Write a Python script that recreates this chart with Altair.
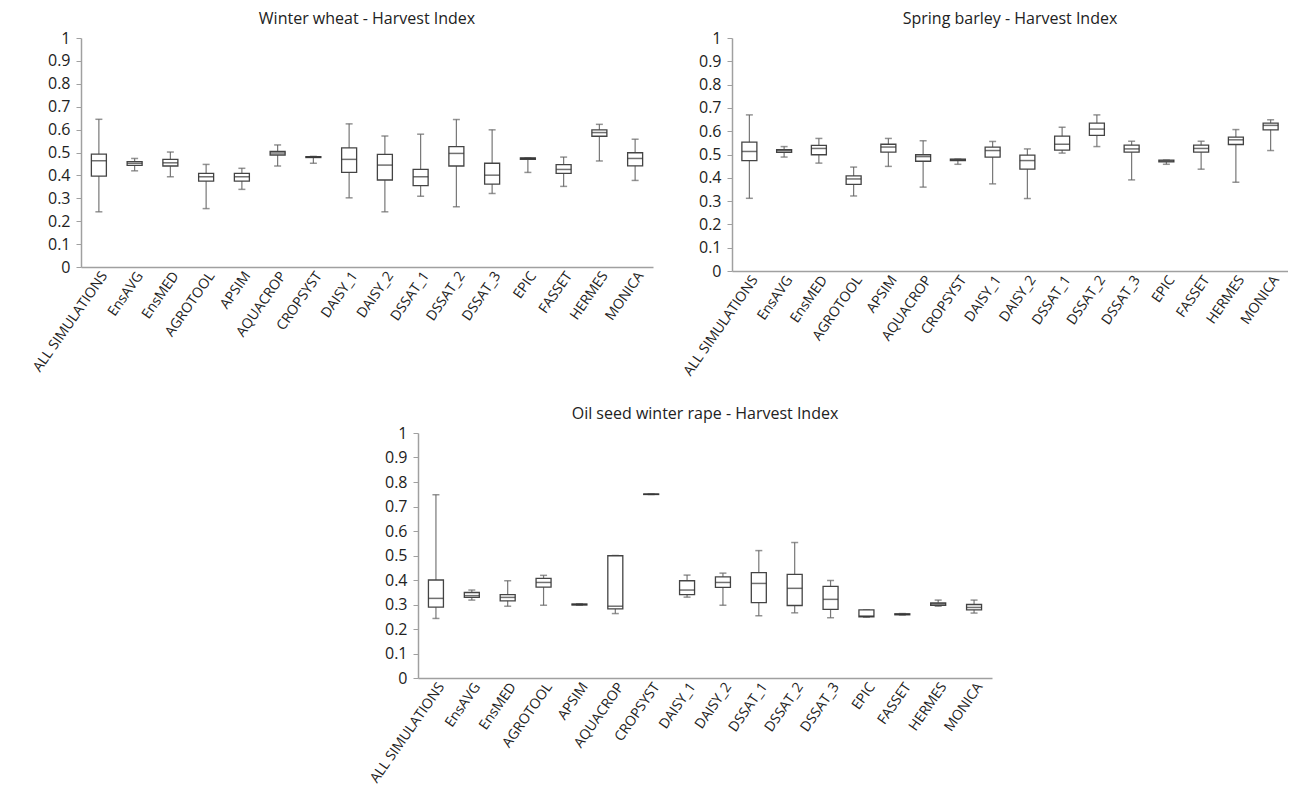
import altair as alt
import pandas as pd

categories = ["ALL SIMULATIONS", "EnsAVG", "EnsMED", "AGROTOOL", "APSIM", "AQUACROP",
              "CROPSYST", "DAISY_1", "DAISY_2", "DSSAT_1", "DSSAT_2", "DSSAT_3",
              "EPIC", "FASSET", "HERMES", "MONICA"]

y_ticks = [0, 0.1, 0.2, 0.3, 0.4, 0.5, 0.6, 0.7, 0.8, 0.9, 1.0]

# Winter wheat
ww_min = [0.241, 0.420, 0.394, 0.255, 0.339, 0.441, 0.453, 0.302, 0.241, 0.309, 0.263, 0.321, 0.413, 0.352, 0.463, 0.378]
ww_q1 = [0.397, 0.444, 0.441, 0.375, 0.375, 0.489, 0.478, 0.413, 0.380, 0.355, 0.441, 0.362, 0.470, 0.409, 0.571, 0.442]
ww_med = [0.464, 0.453, 0.455, 0.394, 0.394, 0.498, 0.480, 0.470, 0.445, 0.394, 0.496, 0.401, 0.474, 0.426, 0.587, 0.474]
ww_q3 = [0.493, 0.460, 0.470, 0.409, 0.409, 0.505, 0.482, 0.520, 0.492, 0.426, 0.526, 0.453, 0.476, 0.447, 0.599, 0.499]
ww_max = [0.645, 0.474, 0.502, 0.448, 0.431, 0.533, 0.483, 0.625, 0.572, 0.580, 0.644, 0.599, 0.476, 0.480, 0.623, 0.558]

# Spring barley
sb_min = [0.312, 0.489, 0.463, 0.322, 0.449, 0.360, 0.458, 0.374, 0.311, 0.506, 0.534, 0.391, 0.458, 0.437, 0.381, 0.517]
sb_q1 = [0.474, 0.509, 0.499, 0.372, 0.510, 0.471, 0.474, 0.489, 0.437, 0.519, 0.582, 0.510, 0.468, 0.510, 0.543, 0.606]
sb_med = [0.513, 0.516, 0.526, 0.395, 0.532, 0.491, 0.478, 0.517, 0.474, 0.544, 0.609, 0.524, 0.472, 0.526, 0.563, 0.625]
sb_q3 = [0.553, 0.521, 0.539, 0.408, 0.544, 0.499, 0.480, 0.532, 0.497, 0.579, 0.635, 0.540, 0.476, 0.540, 0.575, 0.635]
sb_max = [0.670, 0.534, 0.569, 0.446, 0.569, 0.559, 0.480, 0.556, 0.524, 0.617, 0.670, 0.557, 0.476, 0.557, 0.607, 0.649]

# Oil seed winter rape
os_min = [0.243, 0.318, 0.293, 0.297, 0.297, 0.263, 0.749, 0.330, 0.297, 0.254, 0.266, 0.246, 0.248, 0.257, 0.293, 0.265]
os_q1 = [0.289, 0.329, 0.315, 0.371, 0.298, 0.282, 0.749, 0.340, 0.370, 0.308, 0.296, 0.280, 0.250, 0.258, 0.297, 0.278]
os_med = [0.325, 0.336, 0.329, 0.390, 0.300, 0.293, 0.750, 0.359, 0.390, 0.386, 0.366, 0.321, 0.253, 0.260, 0.303, 0.288]
os_q3 = [0.400, 0.349, 0.340, 0.407, 0.302, 0.499, 0.751, 0.397, 0.413, 0.430, 0.423, 0.374, 0.278, 0.262, 0.307, 0.300]
os_max = [0.748, 0.359, 0.397, 0.419, 0.303, 0.500, 0.751, 0.420, 0.428, 0.520, 0.553, 0.398, 0.278, 0.263, 0.318, 0.318]

FONT = "Open Sans"


def panel(title, mins, q1, med, q3, maxs, width, height):
    df = pd.DataFrame({"cat": categories, "lo": mins, "q1": q1, "med": med, "q3": q3, "hi": maxs})
    x = alt.X("cat:N", sort=categories, title=None,
              scale=alt.Scale(paddingInner=0.0, paddingOuter=0.0),
              axis=alt.Axis(labelAngle=-55, labelAlign="right", labelBaseline="top",
                            ticks=False, labelPadding=2))
    yscale = alt.Scale(domain=[0, 1], nice=False)
    yaxis = alt.Axis(values=y_ticks, format=".1~f", grid=False, tickCount=11)

    def Y(field):
        return alt.Y(field, scale=yscale, axis=yaxis, title=None)

    base = alt.Chart(df)
    whisk = base.mark_rule(color="#777", strokeWidth=1.2).encode(x=x, y=Y("lo:Q"), y2="hi:Q")
    cap_lo = base.mark_tick(color="#666", size=7, thickness=1.5).encode(x=x, y=Y("lo:Q"))
    cap_hi = base.mark_tick(color="#666", size=7, thickness=1.5).encode(x=x, y=Y("hi:Q"))
    box = base.mark_bar(size=15, fill="white", stroke="#444", strokeWidth=1.3).encode(
        x=x, y=Y("q1:Q"), y2="q3:Q")
    median = base.mark_tick(color="#333", size=15, thickness=1.5).encode(x=x, y=Y("med:Q"))
    return alt.layer(whisk, cap_lo, cap_hi, box, median).properties(
        width=width, height=height, title=title)


p1 = panel("Winter wheat - Harvest Index", ww_min, ww_q1, ww_med, ww_q3, ww_max, 572, 229)
p2 = panel("Spring barley - Harvest Index", sb_min, sb_q1, sb_med, sb_q3, sb_max, 556, 233)
p3 = panel("Oil seed winter rape - Harvest Index", os_min, os_q1, os_med, os_q3, os_max, 574, 245)

spacer = alt.Chart(pd.DataFrame({"a": [0]})).mark_point(opacity=0, size=1).encode(
    x=alt.value(0), y=alt.value(0)).properties(width=286, height=10)

top = alt.hconcat(p1, p2, spacing=27)
bottom = alt.hconcat(spacer, p3, spacing=0)
chart = (
    alt.vconcat(top, bottom, spacing=28)
    .configure_view(stroke=None)
    .configure_axis(domainColor="#a0a0a0", domainWidth=1.5, tickColor="#a0a0a0",
                    labelFont=FONT, labelColor="#222")
    .configure_axisX(labelFontSize=14)
    .configure_axisY(labelFontSize=16, tickSize=5, labelPadding=6)
    .configure_title(fontSize=16, fontWeight="normal", font=FONT, color="#222",
                     anchor="middle", offset=3)
    .properties(padding={"left": 22, "top": 3, "right": 0, "bottom": 0})
)

chart.save("out.html", embed_options={"renderer": "svg", "actions": False})
